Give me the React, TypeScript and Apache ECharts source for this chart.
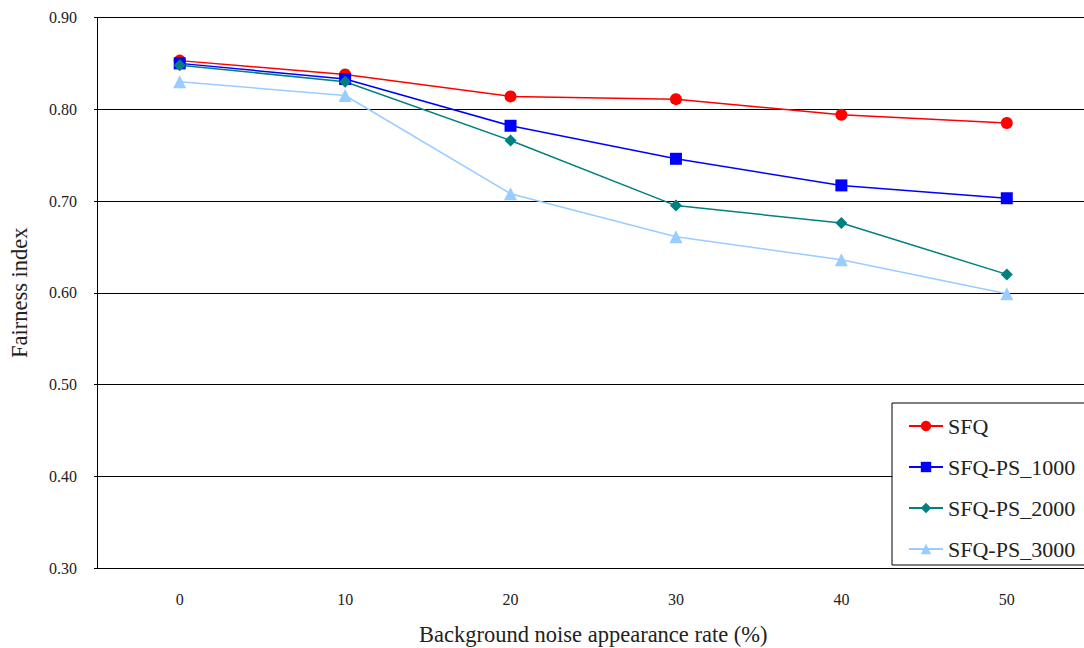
import React, { useEffect, useRef } from "react";
import * as echarts from "echarts";

const categories = ["0", "10", "20", "30", "40", "50"];
const sfq = [0.853, 0.838, 0.814, 0.811, 0.794, 0.785];
const sfqPs1000 = [0.850, 0.833, 0.782, 0.746, 0.717, 0.703];
const sfqPs2000 = [0.848, 0.830, 0.766, 0.695, 0.676, 0.620];
const sfqPs3000 = [0.830, 0.815, 0.708, 0.661, 0.636, 0.599];

const FONT = "Liberation Serif";

export default function App() {
  const ref = useRef<HTMLDivElement>(null);
  useEffect(() => {
    if (!ref.current) return;
    const chart = echarts.init(ref.current, undefined, { renderer: "svg" });
    const mk = (name: string, data: number[], color: string, symbol: string, size: number) => ({
      name,
      type: "line",
      data,
      symbol,
      symbolSize: size,
      lineStyle: { color, width: 1.5 },
      itemStyle: { color },
      emphasis: { disabled: true },
    });
    chart.setOption({
      animation: false,
      backgroundColor: "#ffffff",
      textStyle: { fontFamily: FONT },
      grid: { left: 97, right: 10.5, top: 17.5, bottom: 80, containLabel: false, outerBoundsMode: "none" },
      legend: {
        orient: "vertical",
        left: 892,
        top: 403,
        backgroundColor: "#ffffff",
        borderColor: "#000",
        borderWidth: 1,
        borderRadius: 0,
        padding: [12, 60, 5, 16],
        itemGap: 19,
        itemWidth: 34,
        itemHeight: 13,
        itemStyle: { borderWidth: 0 },
        textStyle: { fontFamily: FONT, fontSize: 22, color: "#222", lineHeight: 22 },
        data: ["SFQ", "SFQ-PS_1000", "SFQ-PS_2000", "SFQ-PS_3000"],
      },
      xAxis: {
        type: "category",
        data: categories,
        boundaryGap: true,
        name: "Background noise appearance rate (%)",
        nameLocation: "middle",
        nameGap: 55,
        nameTextStyle: { fontFamily: FONT, fontSize: 22.5, color: "#222" },
        axisLine: { lineStyle: { color: "#000", width: 1 } },
        axisTick: { inside: true, length: 5, lineStyle: { color: "#000" } },
        axisLabel: { fontFamily: FONT, fontSize: 16, color: "#222", margin: 23 },
        splitLine: { show: false },
      },
      yAxis: {
        type: "value",
        min: 0.3,
        max: 0.9,
        interval: 0.1,
        name: "Fairness index",
        nameLocation: "middle",
        nameGap: 66,
        nameTextStyle: { fontFamily: FONT, fontSize: 22.5, color: "#222" },
        axisLine: { show: true, lineStyle: { color: "#000", width: 1 } },
        axisTick: { show: true, length: 3, lineStyle: { color: "#000" } },
        axisLabel: {
          fontFamily: FONT,
          fontSize: 16,
          color: "#222",
          margin: 20,
          formatter: (v: number) => v.toFixed(2),
        },
        splitLine: { show: true, lineStyle: { color: "#000", width: 1 } },
      },
      series: [
        mk("SFQ", sfq, "#ff0000", "circle", 12),
        mk("SFQ-PS_1000", sfqPs1000, "#0000ff", "rect", 12),
        mk("SFQ-PS_2000", sfqPs2000, "#008080", "diamond", 12),
        mk("SFQ-PS_3000", sfqPs3000, "#99ccff", "triangle", 13),
      ],
    });
    return () => chart.dispose();
  }, []);
  return (
    <div style={{ position: "fixed", left: 0, top: 0, width: 1084, height: 648, overflow: "hidden", background: "#fff" }}>
      <div ref={ref} style={{ width: 1100, height: 648 }} />
    </div>
  );
}
